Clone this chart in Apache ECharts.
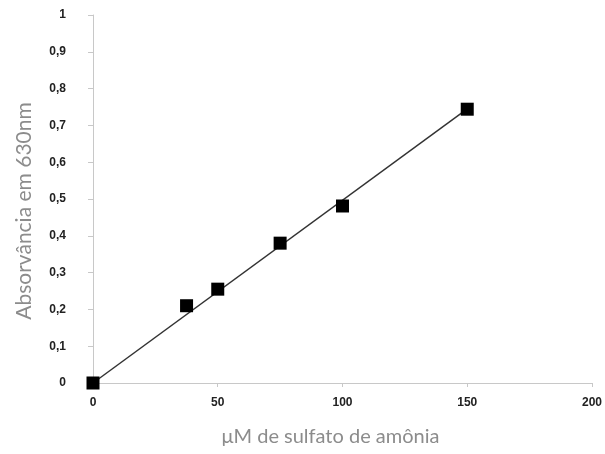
<!DOCTYPE html>
<html>
<head>
<meta charset="utf-8">
<script src="https://cdn.jsdelivr.net/npm/echarts@6/dist/echarts.min.js"></script>
<style>
html, body { margin: 0; padding: 0; background: #fff; }
#draw { width: 605px; height: 454px; }
</style>
</head>
<body>
<div id="draw"></div>
<script>
// pontos medidos (uM de sulfato de amonia x absorvancia)
var concentracao = [0, 37.5, 50, 75, 100, 150];
var absorvancia = [0, 0.21, 0.255, 0.38, 0.481, 0.744];
// reta ajustada, extremos
var retaX = [0, 150];
var retaY = [0, 0.745];

var myChart = echarts.init(document.getElementById('draw'));

var pontos = concentracao.map(function(x, i) { return [x, absorvancia[i]]; });
var reta = retaX.map(function(x, i) { return [x, retaY[i]]; });

var tickFont = {
	color : '#222',
	fontFamily : 'Liberation Sans, Arial, sans-serif',
	fontWeight : 'bold',
	fontSize : 12
};

option = {
	backgroundColor : '#fff',
	animation : false,
	grid : {
		left : 93,
		right : 13,
		top : 15,
		bottom : 71
	},
	xAxis : {
		type : 'value',
		min : 0,
		max : 200,
		interval : 50,
		name : 'μM de sulfato de amônia',
		nameLocation : 'middle',
		nameGap : 44,
		nameTextStyle : {
			color : '#8c8c8c',
			fontFamily : 'Lato, Open Sans, sans-serif',
			fontSize : 20,
			padding : [0, 24, 0, 0]
		},
		axisLine : { lineStyle : { color : '#c8c8c8', width : 1 } },
		axisTick : { show : true, length : 4, lineStyle : { color : '#c8c8c8' } },
		axisLabel : Object.assign({ margin : 14 }, tickFont),
		splitLine : { show : false }
	},
	yAxis : {
		type : 'value',
		min : 0,
		max : 1,
		interval : 0.1,
		name : 'Absorvância em 630nm',
		nameLocation : 'middle',
		nameGap : 58,
		nameTextStyle : {
			color : '#8c8c8c',
			fontFamily : 'Lato, Open Sans, sans-serif',
			fontSize : 21,
			padding : [0, 24, 0, 0]
		},
		axisLine : { show : true, lineStyle : { color : '#c8c8c8', width : 1 } },
		axisTick : { show : true, length : 5, lineStyle : { color : '#c8c8c8' } },
		axisLabel : Object.assign({
			margin : 27,
			formatter : function(v) {
				return String(+v.toFixed(1)).replace('.', ',');
			}
		}, tickFont),
		splitLine : { show : false }
	},
	series : [ {
		name : 'reta',
		type : 'line',
		data : reta,
		symbol : 'none',
		lineStyle : { color : '#333', width : 1.5 },
		z : 2
	}, {
		name : 'pontos',
		type : 'scatter',
		data : pontos,
		symbol : 'rect',
		symbolSize : 13,
		itemStyle : { color : '#000', opacity : 1 },
		z : 3
	} ]
};
myChart.setOption(option);
</script>
</body>
</html>
